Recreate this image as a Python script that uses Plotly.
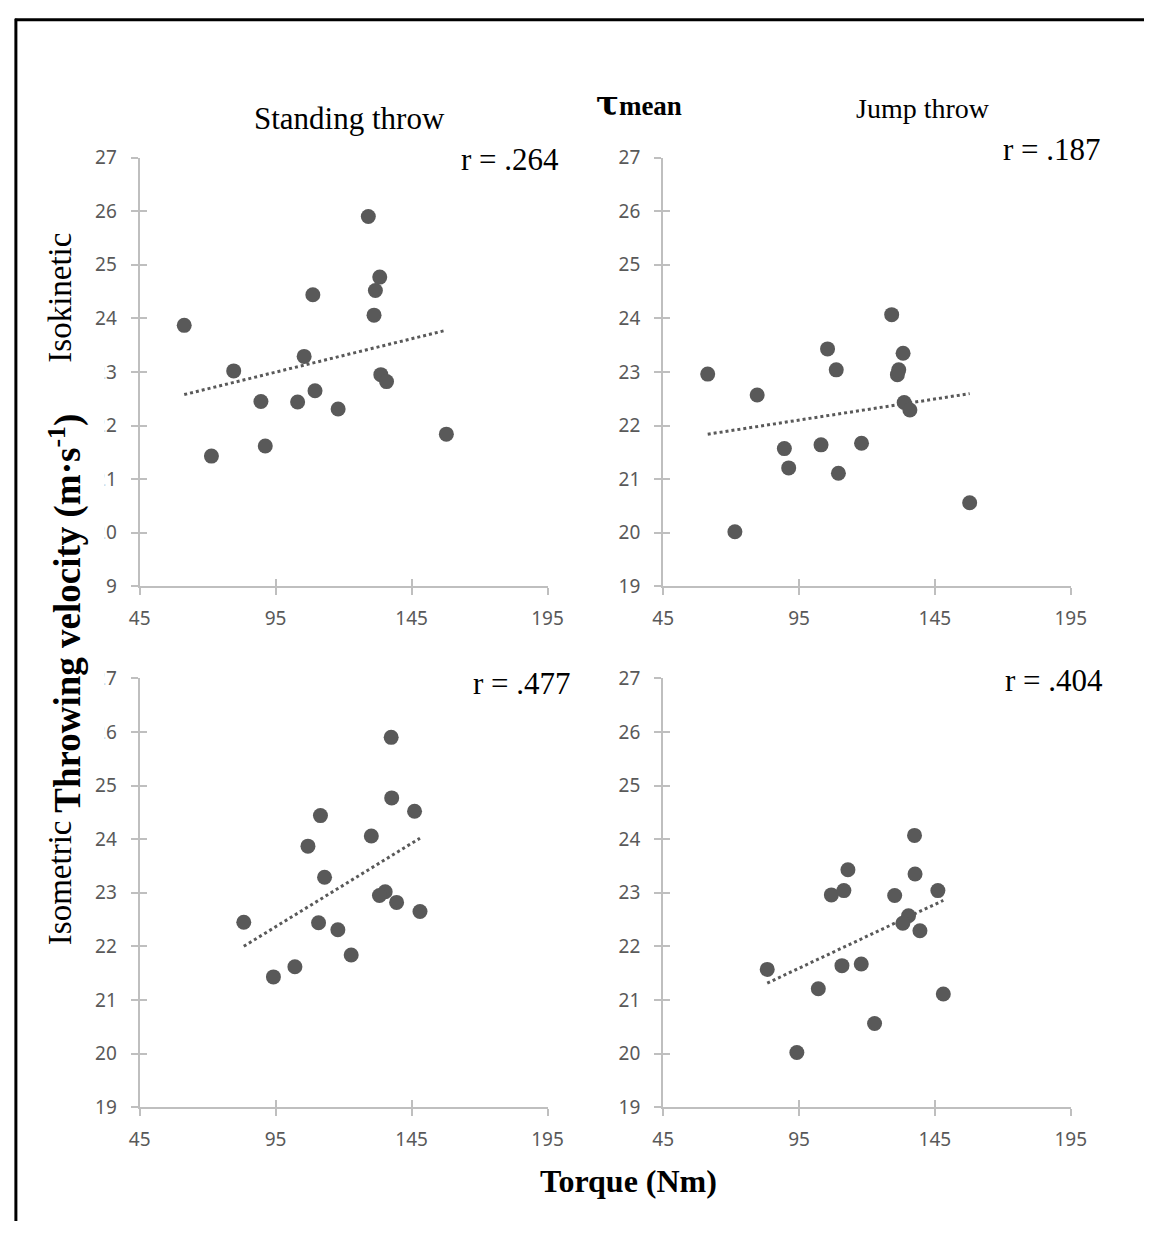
import numpy as np
import plotly.graph_objects as go

# ---- data (17 players) ----
isokinetic_torque = [61.4, 71.4, 79.6, 89.6, 91.2, 103.1, 105.5, 108.7, 109.5, 118.0,
                     129.1, 131.2, 131.7, 133.3, 133.7, 135.8, 157.8]
isometric_torque = [106.9, 94.2, 135.3, 83.3, 102.1, 110.8, 113.0, 111.5, 148.1, 117.9,
                    137.5, 130.2, 146.1, 137.7, 133.2, 139.5, 122.8]
standing_velocity = [23.87, 21.43, 23.02, 22.45, 21.62, 22.44, 23.29, 24.44, 22.65, 22.31,
                     25.90, 24.06, 24.52, 24.77, 22.95, 22.82, 21.84]
jump_velocity = [22.96, 20.02, 22.57, 21.57, 21.21, 21.64, 23.43, 23.04, 21.11, 21.67,
                 24.07, 22.95, 23.04, 23.35, 22.43, 22.29, 20.56]

r_labels = ["r = .264", "r = .187", "r = .477", "r = .404"]
x_ticks = [45, 95, 145, 195]
y_ticks = [19, 20, 21, 22, 23, 24, 25, 26, 27]

W, H = 1160, 1234
def px(x):
    return x / W
def py(y):
    return 1 - y / H

panels = [
    (isokinetic_torque, standing_velocity, (131.7, 549.3), (147.7, 585.7)),
    (isokinetic_torque, jump_velocity, (667.7, 1085.0), (147.7, 585.7)),
    (isometric_torque, standing_velocity, (131.7, 549.3), (679.7, 1117.7)),
    (isometric_torque, jump_velocity, (667.7, 1085.0), (679.7, 1117.7)),
]

MARK = "#595959"
AXC = "#bfbfbf"
TICKFONT = dict(family="Noto Sans, Open Sans, sans-serif", size=19, color="#595959")
SERIF = "Liberation Serif, Times New Roman, serif"

fig = go.Figure()
layout = {}
for i, (xs, ys, (x0, x1), (y0, y1)) in enumerate(panels):
    n = i + 1
    xa = "x" if n == 1 else f"x{n}"
    ya = "y" if n == 1 else f"y{n}"
    xk = "xaxis" if n == 1 else f"xaxis{n}"
    yk = "yaxis" if n == 1 else f"yaxis{n}"
    xs_a = np.array(xs)
    ys_a = np.array(ys)
    k, b = np.polyfit(xs_a, ys_a, 1)
    lx = np.array([xs_a.min(), xs_a.max()])
    fig.add_trace(go.Scatter(x=lx, y=k * lx + b, mode="lines", xaxis=xa, yaxis=ya,
                             line=dict(color=MARK, width=3, dash="dot"), showlegend=False,
                             hoverinfo="skip"))
    fig.add_trace(go.Scatter(x=xs, y=ys, mode="markers", xaxis=xa, yaxis=ya,
                             marker=dict(color=MARK, size=15), showlegend=False))
    common = dict(showgrid=False, zeroline=False, showline=True, linecolor=AXC, linewidth=2,
                  ticks="outside", ticklen=7, tickwidth=1.5, tickcolor=AXC,
                  tickfont=TICKFONT)
    layout[xk] = dict(domain=[px(x0), px(x1)], range=[45, 195], tickvals=x_ticks,
                      anchor=ya, ticklabelstandoff=7, **common)
    layout[yk] = dict(domain=[py(y1), py(y0)], range=[19, 27], tickvals=y_ticks,
                      anchor=xa, ticklabelstandoff=10, **common)
    # overlay axes so that the tick marks cross the axis line
    ox, oy = n + 4, n + 4
    layout[f"xaxis{ox}"] = dict(overlaying=xa, anchor=ya, range=[45, 195], tickvals=x_ticks,
                                ticks="inside", ticklen=7, tickwidth=1.5, tickcolor=AXC,
                                showticklabels=False, showline=False, showgrid=False,
                                zeroline=False)
    layout[f"yaxis{oy}"] = dict(overlaying=ya, anchor=xa, range=[19, 27], tickvals=y_ticks,
                                ticks="inside", ticklen=7, tickwidth=1.5, tickcolor=AXC,
                                showticklabels=False, showline=False, showgrid=False,
                                zeroline=False)
    fig.add_trace(go.Scatter(x=[None], y=[None], xaxis=f"x{ox}", yaxis=f"y{oy}",
                             showlegend=False, hoverinfo="skip"))

ann = []
def text(x, y, t, size, angle=0, xanchor="center", family=SERIF):
    ann.append(dict(x=px(x), y=py(y), xref="paper", yref="paper", text=t, showarrow=False,
                    xanchor=xanchor, yanchor="middle", textangle=angle,
                    font=dict(family=family, size=size, color="black")))

text(347, 108, "Standing throw", 31)
text(934, 98, "Jump throw", 28)
text(643, 92, "<b><span style='font-family:DejaVu Serif;font-size:34px'>τ</span>mean</b>", 27)
text(563, 150, r_labels[0], 31, xanchor="right")
text(1118, 139, r_labels[1], 31, xanchor="right")
text(575, 685, r_labels[2], 31, xanchor="right")
text(1120, 682, r_labels[3], 31, xanchor="right")
text(50, 291, "Isokinetic", 33, angle=-90)
text(50, 888, "Isometric", 33, angle=-90)
text(56, 613, "<b>Throwing velocity (m·s<sup>-1</sup>)</b>", 37, angle=-90)
text(632, 1193, "<b>Torque (Nm)</b>", 32)

shapes = [
    # white box of the vertical title, hiding parts of tick labels as in the source
    dict(type="rect", xref="paper", yref="paper", x0=px(30), x1=px(96), y0=py(745), y1=py(357),
         fillcolor="white", line=dict(width=0), layer="above"),
    dict(type="line", xref="paper", yref="paper", x0=px(5), x1=px(5), y0=py(6), y1=0,
         line=dict(color="black", width=3)),
    dict(type="line", xref="paper", yref="paper", x0=px(4), x1=1, y0=py(7), y1=py(7),
         line=dict(color="black", width=3)),
]

fig.update_layout(width=W, height=H, margin=dict(l=0, r=0, t=0, b=0), autosize=False,
                  paper_bgcolor="white", plot_bgcolor="white", annotations=ann,
                  shapes=shapes, **layout)

post = (
    "var s=document.createElement('style');"
    "s.innerHTML='html,body{margin:0!important;padding:0!important;overflow:hidden!important;}"
    "body>div{margin:0!important;padding:0!important;}';"
    "document.head.appendChild(s);"
)
fig.write_html("out.html", config={"displayModeBar": False}, post_script=post)
